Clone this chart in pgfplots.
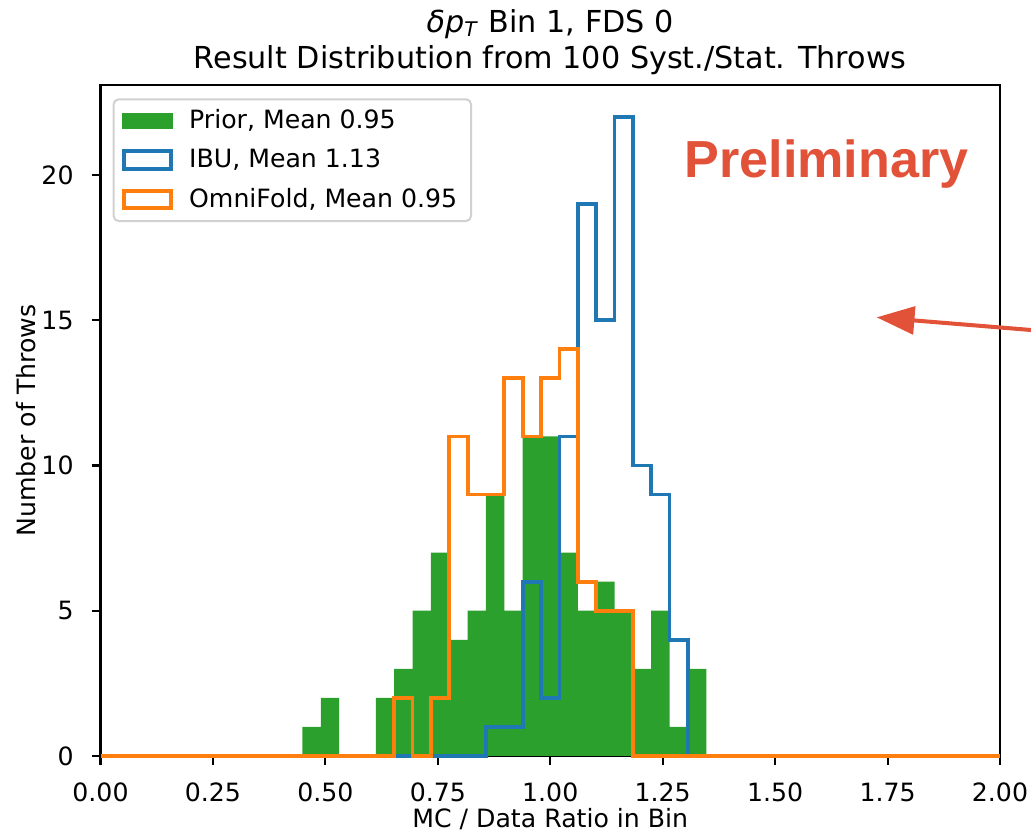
\documentclass[border=0pt]{standalone}
\usepackage{fontspec}
\setmainfont{DejaVu Sans}
\newfontfamily\prelimfont{Liberation Sans}
\usepackage{pgfplots}
\pgfplotsset{compat=1.18}
\usetikzlibrary{arrows.meta}
\definecolor{mplgreen}{HTML}{2CA02C}
\definecolor{mplblue}{HTML}{1F77B4}
\definecolor{mplorange}{HTML}{FF7F0E}
\definecolor{prelim}{RGB}{225,82,57}
\begin{document}
\begin{tikzpicture}
\begin{axis}[
  width=357.1pt, height=266.39pt, scale only axis,
  xmin=0, xmax=2, ymin=0, ymax=23.1,
  clip=false,
  axis line style={line width=0.8pt},
  tick align=outside, tick pos=left,
  major tick length=3.5pt,
  every tick/.style={black, line width=0.8pt},
  xtick={0,0.25,0.5,0.75,1,1.25,1.5,1.75,2},
  xticklabels={0.00,0.25,0.50,0.75,1.00,1.25,1.50,1.75,2.00},
  ytick={0,5,10,15,20},
  yticklabels={0,5,10,15,20},
  every tick label/.append style={font=\fontsize{10}{12}\selectfont},
  xticklabel style={anchor=base, yshift=-14.7pt},
  yticklabel style={anchor=east, inner sep=0pt, xshift=-7pt},
  label style={font=\fontsize{10}{12}\selectfont},
  xlabel={MC / Data Ratio in Bin},
  xlabel style={at={(axis description cs:0.5,-0.1059)}, anchor=base},
  ylabel={Number of Throws},
  ylabel style={at={(axis description cs:-0.0728,0.5)}, anchor=base},
  title={\textit{δp}\textsubscript{\textit{T}} Bin 1, FDS 0\\Result Distribution from 100 Syst./Stat. Throws},
  title style={align=center, font=\fontsize{12}{14.4}\selectfont, at={(0.5,1)}, anchor=south, inner sep=0pt, yshift=-2.2pt},
  legend style={at={(0,1)}, anchor=north west, xshift=4.8pt, yshift=-5.3pt,
    draw=black!18, line width=0.8pt, rounded corners=2pt,
    font=\fontsize{10}{12}\selectfont, row sep=2.6pt, column sep=4.5pt,
    inner xsep=3.5pt, inner ysep=2pt},
  legend cell align=left,
]
% Prior (filled)
\addplot[draw=none, fill=mplgreen, const plot mark left,
  legend image code/.code={\fill[mplgreen, sharp corners] (0pt,-3.3pt) rectangle (20pt,3.3pt);}]
  coordinates {(0.44898,1) (0.48980,2) (0.53061,0) (0.57143,0) (0.61224,2)
    (0.65306,3) (0.69388,5) (0.73469,7) (0.77551,4) (0.81633,5) (0.85714,9)
    (0.89796,5) (0.93878,11) (0.97959,11) (1.02041,7) (1.06122,5) (1.10204,6)
    (1.14286,5) (1.18367,3) (1.22449,5) (1.26531,1) (1.30612,3) (1.34694,3)}
  \closedcycle;
\addlegendentry{Prior, Mean 0.95}
% IBU (step)
\addplot[mplblue, line width=1.5pt, const plot mark left, line join=miter,
  legend image code/.code={\draw[mplblue, line width=1.5pt, sharp corners] (0.75pt,-3.5pt) rectangle (19.25pt,3.5pt);}]
  coordinates {(0,0) (0.85714,1) (0.89796,1) (0.93878,6) (0.97959,2)
    (1.02041,11) (1.06122,19) (1.10204,15) (1.14286,22) (1.18367,10)
    (1.22449,9) (1.26531,4) (1.30612,0) (2,0)};
\addlegendentry{IBU, Mean 1.13}
% OmniFold (step)
\addplot[mplorange, line width=1.5pt, const plot mark left, line join=miter,
  legend image code/.code={\draw[mplorange, line width=1.5pt, sharp corners] (0.75pt,-3.5pt) rectangle (19.25pt,3.5pt);}]
  coordinates {(0,0) (0.65306,2) (0.69388,0) (0.73469,2) (0.77551,11)
    (0.81633,9) (0.85714,9) (0.89796,13) (0.93878,11) (0.97959,13)
    (1.02041,14) (1.06122,6) (1.10204,5) (1.14286,5) (1.18367,0) (2,0)};
\addlegendentry{OmniFold, Mean 0.95}
\node[anchor=base west, inner sep=0pt, text=prelim,
  font=\prelimfont\bfseries\fontsize{20.7}{24}\selectfont]
  at (axis cs:1.2974,19.92) {Preliminary};
\draw[prelim, line width=1.6pt, -{Triangle[length=15pt, width=11pt]}]
  (axis cs:2.2224,14.47) -- (axis cs:1.7258,15.10);
\end{axis}
\pgfresetboundingbox
\useasboundingbox (-39.90pt,-30.97pt) rectangle (369.41pt,300.13pt);
\end{tikzpicture}
\end{document}
